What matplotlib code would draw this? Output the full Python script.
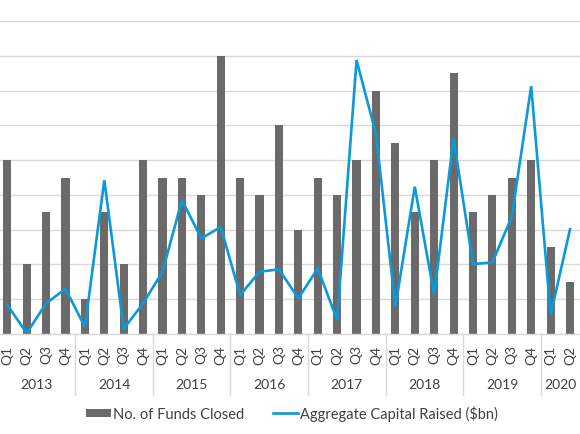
import matplotlib
matplotlib.use("Agg")
import matplotlib.pyplot as plt
from matplotlib.patches import Patch
from matplotlib.lines import Line2D
import numpy as np

plt.rcParams['font.family'] = ['Lato', 'DejaVu Sans']

years = ['2013', '2014', '2015', '2016', '2017', '2018', '2019', '2020']
quarters_per_year = [4, 4, 4, 4, 4, 4, 4, 2]
quarter_labels = ['Q1', 'Q2', 'Q3', 'Q4'] * 7 + ['Q1', 'Q2']

funds_closed = [10, 4, 7, 9,
                2, 7, 4, 10,
                9, 9, 8, 16,
                9, 8, 12, 6,
                9, 8, 10, 14,
                11, 7, 10, 15,
                7, 8, 9, 10,
                5, 3]

capital_raised = [1.67, 0.05, 1.76, 2.6,
                  0.4, 8.85, 0.3, 1.76,
                  3.58, 7.7, 5.5, 6.15,
                  2.24, 3.58, 3.72, 2.05,
                  3.77, 0.8, 15.75, 11.5,
                  1.57, 8.47, 2.24, 11.25,
                  4.02, 4.12, 6.74, 14.25,
                  1.09, 6.02]

W, H = 580, 435
fig = plt.figure(figsize=(W / 100, H / 100), dpi=100)
left_px, right_px, top_px, bot_px = -2.4, 579.7, 22, 335
ax = fig.add_axes([left_px / W, 1 - bot_px / H, (right_px - left_px) / W, (bot_px - top_px) / H])

bar_color = '#6b6969'
line_color = '#0a9ad9'
grid_color = '#d9d9d9'

x = np.arange(len(funds_closed))
ax.bar(x, funds_closed, width=0.42, color=bar_color, zorder=2)
ax.plot(x, capital_raised, color=line_color, lw=1.9, zorder=3, solid_joinstyle='miter')

ax.set_xlim(-0.5, len(x) - 0.5)
ax.set_ylim(0, 18)
ax.set_yticks(np.arange(0, 19, 2))
ax.yaxis.grid(True, color=grid_color, lw=1.0, zorder=0)
ax.tick_params(axis='y', left=False, labelleft=False)
ax.set_xticks([])
for s in ['top', 'right', 'left']:
    ax.spines[s].set_visible(False)
ax.spines['bottom'].set_color(grid_color)
ax.spines['bottom'].set_linewidth(1.0)

axh = bot_px - top_px
trans = ax.get_xaxis_transform()
for i, q in enumerate(quarter_labels):
    ax.text(i, -20 / axh, q, rotation=90, ha='center', va='center',
            fontsize=10, color='#404040', transform=trans)

start = 0
for yname, n in zip(years, quarters_per_year):
    center = start + (n - 1) / 2
    ax.text(center, -50 / axh, yname, ha='center', va='center',
            fontsize=10, color='#404040', transform=trans)
    start += n
    if start < len(x):
        ax.plot([start - 0.5, start - 0.5], [0, -(396 - bot_px) / axh],
                color=grid_color, lw=1.0, transform=trans, clip_on=False)

handles = [Patch(facecolor=bar_color, edgecolor='none'),
           Line2D([0], [0], color=line_color, lw=1.9)]
fig.legend(handles, ['No. of Funds Closed', 'Aggregate Capital Raised ($bn)'],
           loc='center', bbox_to_anchor=(292 / W, 1 - 414 / H), ncol=2,
           frameon=False, fontsize=10.5, handlelength=1.7, handleheight=0.5,
           handletextpad=0.12, columnspacing=2.0, labelcolor='#404040')

fig.savefig('out.png', dpi=100)
